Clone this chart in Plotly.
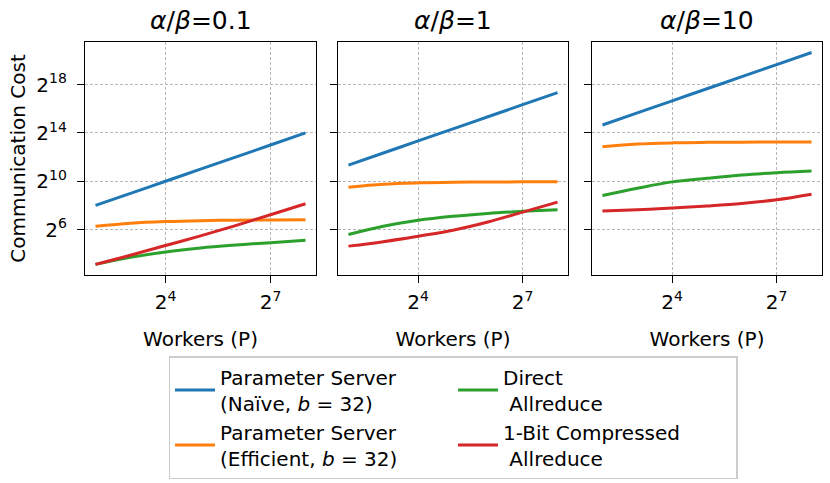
import plotly.graph_objects as go
from plotly.subplots import make_subplots

# ---- data (costs given as log2 exponents) ----
workers = [4, 8, 16, 32, 64, 128, 256]
ratios = ["0.1", "1", "10"]

naive_01 = [8.0, 9.0, 10.0, 11.0, 12.0, 13.0, 14.0]
efficient_01 = [6.27, 6.52, 6.66, 6.74, 6.78, 6.80, 6.82]
direct_01 = [3.12, 3.70, 4.15, 4.48, 4.72, 4.92, 5.12]
onebit_01 = [3.12, 3.88, 4.68, 5.48, 6.33, 7.23, 8.14]

naive_1 = [11.34, 12.34, 13.34, 14.34, 15.34, 16.34, 17.34]
efficient_1 = [9.51, 9.76, 9.87, 9.92, 9.94, 9.95, 9.95]
direct_1 = [5.59, 6.27, 6.77, 7.10, 7.34, 7.51, 7.64]
onebit_1 = [4.63, 5.00, 5.45, 5.95, 6.63, 7.45, 8.27]

naive_10 = [14.66, 15.66, 16.66, 17.66, 18.66, 19.66, 20.66]
efficient_10 = [12.85, 13.08, 13.18, 13.22, 13.24, 13.25, 13.26]
direct_10 = [8.82, 9.42, 9.95, 10.25, 10.52, 10.71, 10.85]
onebit_10 = [7.53, 7.64, 7.78, 7.95, 8.16, 8.47, 8.93]

series_names = [
    "Parameter Server<br>(Naïve, <i>b</i> = 32)",
    "Parameter Server<br>(Efficient, <i>b</i> = 32)",
    "Direct<br>\u00a0Allreduce",
    "1-Bit Compressed<br>\u00a0Allreduce",
]
series_colors = ["#1f77b4", "#ff7f0e", "#2ca02c", "#d62728"]
legend_ranks = [1, 3, 2, 4]

y_tick_exps = [6, 10, 14, 18]
x_tick_exps = [4, 7]

panels = [
    [naive_01, efficient_01, direct_01, onebit_01],
    [naive_1, efficient_1, direct_1, onebit_1],
    [naive_10, efficient_10, direct_10, onebit_10],
]

FONT = "DejaVu Sans"
W, H = 830, 483

fig = make_subplots(rows=1, cols=3, shared_yaxes=True)

for c, panel in enumerate(panels):
    for s, vals in enumerate(panel):
        fig.add_trace(
            go.Scatter(
                x=workers,
                y=[2 ** v for v in vals],
                mode="lines",
                line=dict(color=series_colors[s], width=3, shape="spline"),
                name=series_names[s],
                legendrank=legend_ranks[s],
                showlegend=(c == 0),
            ),
            row=1, col=c + 1,
        )

x_domains = [(85 / W, 316 / W), (338 / W, 568 / W), (592 / W, 822 / W)]
y_domain = (1 - 275 / H, 1 - 42 / H)

axis_common = dict(
    showline=True, linecolor="black", linewidth=1.4, mirror=True,
    ticks="outside", ticklen=7, tickwidth=1.3, tickcolor="black",
    showgrid=True, gridcolor="#b8b8b8", griddash="3px,2px", gridwidth=0.9,
    zeroline=False, tickfont=dict(family=FONT, size=20, color="black"),
)

for c in range(3):
    xa = "xaxis" if c == 0 else f"xaxis{c + 1}"
    ya = "yaxis" if c == 0 else f"yaxis{c + 1}"
    fig.layout[xa].update(
        type="log",
        range=[1.7 * 0.30103, 8.3 * 0.30103],
        domain=list(x_domains[c]),
        tickvals=[2 ** e for e in x_tick_exps],
        ticktext=[f"2<sup>{e}</sup>" for e in x_tick_exps],
        ticklabelstandoff=2,
        title=dict(text="Workers (P)", font=dict(family=FONT, size=20, color="black"), standoff=18),
        **axis_common,
    )
    fig.layout[ya].update(
        type="log",
        range=[2.24 * 0.30103, 21.53 * 0.30103],
        domain=list(y_domain),
        tickvals=[2 ** e for e in y_tick_exps],
        ticktext=[f"2<sup>{e}</sup>" for e in y_tick_exps],
        showticklabels=(c == 0),
        ticklabelstandoff=6,
        **axis_common,
    )
    fig.add_annotation(
        text=f"<i>α</i>/<i>β</i>={ratios[c]}",
        x=(x_domains[c][0] + x_domains[c][1]) / 2, y=1 - 21 / H,
        xref="paper", yref="paper", xanchor="center", yanchor="middle",
        showarrow=False, font=dict(family=FONT, size=25, color="black"),
    )

fig.layout.yaxis.title = dict(
    text="Communication Cost", font=dict(family=FONT, size=20, color="black"), standoff=5
)

fig.update_layout(
    width=W, height=H,
    margin=dict(l=0, r=0, t=0, b=0),
    paper_bgcolor="white", plot_bgcolor="white",
    font=dict(family=FONT, size=20, color="black"),
    hovermode=False,
    legend=dict(
        orientation="h",
        x=453 / W, xanchor="center",
        y=1 - 356 / H, yanchor="top",
        bordercolor="#cccccc", borderwidth=1.5,
        font=dict(family=FONT, size=20, color="black"),
        entrywidth=228, itemwidth=40,
        bgcolor="white",
    ),
)

fig.write_html(
    "out.html",
    config={"displayModeBar": False, "staticPlot": False},
    post_script="document.body.style.margin='0px';",
)
